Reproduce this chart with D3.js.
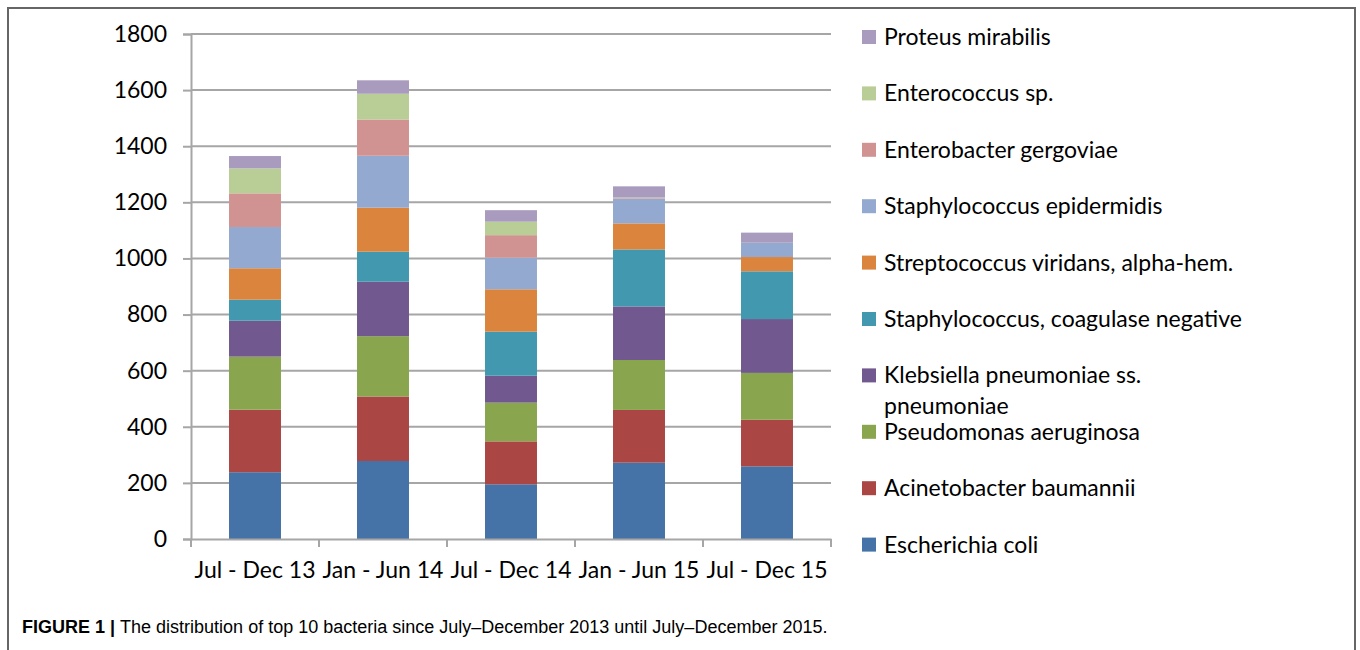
<!DOCTYPE html>
<html>
<head>
<meta charset="utf-8">
<script src="https://cdn.jsdelivr.net/npm/d3@7"></script>
<style>
  body { margin: 0; background: #fff; }
  svg text { font-family: Lato, "Open Sans", sans-serif; fill: #000; }
</style>
</head>
<body>
<div class="graph"></div>
<script>
const width = 1360;
const height = 650;

const categories = ["Jul - Dec 13", "Jan - Jun 14", "Jul - Dec 14", "Jan - Jun 15", "Jul - Dec 15"];

// stacking order, bottom to top
const species = [
  "Escherichia coli",
  "Acinetobacter baumannii",
  "Pseudomonas aeruginosa",
  "Klebsiella pneumoniae ss. pneumoniae",
  "Staphylococcus, coagulase negative",
  "Streptococcus viridans, alpha-hem.",
  "Staphylococcus epidermidis",
  "Enterobacter gergoviae",
  "Enterococcus sp.",
  "Proteus mirabilis",
];

const ecoli = [238, 278, 195, 272, 259];
const acinetobacter = [223, 230, 153, 188, 166];
const pseudomonas = [189, 215, 138, 178, 167];
const klebsiella = [128, 194, 96, 191, 192];
const staphCoag = [75, 107, 157, 203, 170];
const strepViridans = [112, 157, 151, 93, 51];
const staphEpi = [147, 185, 113, 88, 51];
const enterobacter = [120, 129, 80, 2, 0];
const enterococcus = [89, 92, 48, 2, 0];
const proteus = [44, 48, 41, 40, 36];

const yTicks = [0, 200, 400, 600, 800, 1000, 1200, 1400, 1600, 1800];

const colors = ["#4572A7", "#AA4643", "#89A54E", "#71588F", "#4198AF",
                "#DB843D", "#93A9CF", "#D19392", "#B9CD96", "#A99BBD"];

const series = [ecoli, acinetobacter, pseudomonas, klebsiella, staphCoag,
                strepViridans, staphEpi, enterobacter, enterococcus, proteus];

const table = categories.map((c, i) => {
  const row = { category: c };
  species.forEach((s, j) => { row[s] = series[j][i]; });
  return row;
});

const stacked = d3.stack().keys(species)(table);

const plotLeft = 191, plotRight = 831, plotTop = 34, plotBottom = 539;

const xScale = d3.scaleBand()
  .domain(categories)
  .range([plotLeft, plotRight])
  .paddingInner(0.594)
  .paddingOuter(0.297);

const xOuter = d3.scaleBand().domain(categories).range([plotLeft, plotRight]);

const yScale = d3.scaleLinear().domain([0, 1800]).range([plotBottom, plotTop]);

const colorScale = d3.scaleOrdinal().domain(species).range(colors);

const svg = d3.select(".graph")
  .append("svg")
  .attr("width", width)
  .attr("height", height);

// figure frame
svg.append("path")
  .attr("d", "M8,650 V8 H1355 V650")
  .attr("fill", "none")
  .attr("stroke", "#666")
  .attr("stroke-width", 2);

// gridlines
svg.append("g")
  .selectAll("line")
  .data(yTicks.slice(1))
  .enter()
  .append("line")
  .attr("x1", plotLeft)
  .attr("x2", plotRight)
  .attr("y1", (d) => yScale(d))
  .attr("y2", (d) => yScale(d))
  .attr("stroke", "#a6a6a6")
  .attr("stroke-width", 2);

// bars
svg.append("g")
  .selectAll("g")
  .data(stacked)
  .enter()
  .append("g")
  .attr("fill", (d) => colorScale(d.key))
  .selectAll("rect")
  .data((d) => d)
  .enter()
  .append("rect")
  .attr("x", (d) => xScale(d.data.category))
  .attr("y", (d) => yScale(d[1]))
  .attr("width", xScale.bandwidth())
  .attr("height", (d) => yScale(d[0]) - yScale(d[1]));

// y axis
const yAxis = d3.axisLeft(yScale)
  .tickValues(yTicks)
  .tickFormat(d3.format("d"))
  .tickSize(8)
  .tickPadding(16);
const gy = svg.append("g")
  .attr("transform", "translate(" + plotLeft + ",0)")
  .call(yAxis);
gy.select(".domain").attr("stroke", "#a6a6a6").attr("stroke-width", 2);
gy.selectAll(".tick line").attr("stroke", "#a6a6a6").attr("stroke-width", 2);
gy.selectAll(".tick text").style("font-size", "23px").attr("fill", "#000");

// x axis, ticks sit between categories
const xAxis = d3.axisBottom(xOuter).tickSize(0).tickPadding(23);
const gx = svg.append("g")
  .attr("transform", "translate(0," + plotBottom + ")")
  .call(xAxis);
gx.select(".domain").attr("stroke", "#a6a6a6").attr("stroke-width", 2);
gx.selectAll(".tick text").style("font-size", "23px").attr("fill", "#000");

gx.selectAll(".sep")
  .data(categories.concat([null]))
  .enter()
  .append("line")
  .attr("x1", (d, i) => i < categories.length ? xOuter(d) : plotRight)
  .attr("x2", (d, i) => i < categories.length ? xOuter(d) : plotRight)
  .attr("y1", 0)
  .attr("y2", 8)
  .attr("stroke", "#a6a6a6")
  .attr("stroke-width", 2);

// legend, top item is the top of the stack
const legendItems = species.slice().reverse();
const legend = svg.append("g").attr("transform", "translate(862,37)");

const item = legend.selectAll("g")
  .data(legendItems)
  .enter()
  .append("g")
  .attr("transform", (d, i) => "translate(0," + i * 56.4 + ")");

item.append("rect")
  .attr("x", 0)
  .attr("y", -7)
  .attr("width", 14)
  .attr("height", 14)
  .attr("fill", (d) => colorScale(d));

item.append("text")
  .attr("x", 22)
  .attr("y", 8)
  .style("font-size", "23px")
  .each(function (d) {
    const t = d3.select(this);
    if (d.startsWith("Klebsiella")) {
      t.append("tspan").attr("x", 22).text("Klebsiella pneumoniae ss.");
      t.append("tspan").attr("x", 22).attr("dy", 31).text("pneumoniae");
    } else {
      t.text(d);
    }
  });

// caption
const caption = svg.append("text")
  .attr("x", 22)
  .attr("y", 633)
  .style("font-family", "'Liberation Sans', Arial, sans-serif")
  .style("font-size", "18px")
  .attr("fill", "#231f20");
caption.append("tspan").style("font-weight", "bold").text("FIGURE 1 | ");
caption.append("tspan").text("The distribution of top 10 bacteria since July–December 2013 until July–December 2015.");
</script>
</body>
</html>
